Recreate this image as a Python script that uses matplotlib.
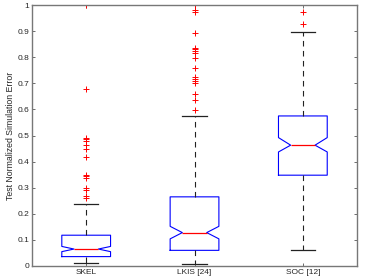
import matplotlib
matplotlib.use("Agg")
import matplotlib.pyplot as plt

plt.rcParams['font.family'] = ['Liberation Sans', 'DejaVu Sans']

# data
labels = ['SKEL', 'LKIS [24]', 'SOC [12]']
medians = [0.065, 0.128, 0.463]
q1 = [0.036, 0.060, 0.348]
q3 = [0.118, 0.265, 0.575]
whis_lo = [0.011, 0.007, 0.063]
whis_hi = [0.237, 0.574, 0.898]
notch_lo = [0.055, 0.104, 0.437]
notch_hi = [0.075, 0.152, 0.492]
outliers = [
    [1.0, 0.68, 0.491, 0.485, 0.478, 0.462, 0.45, 0.416, 0.35, 0.345,
     0.338, 0.298, 0.29, 0.268, 0.26],
    [1.0, 0.981, 0.972, 0.894, 0.836, 0.830, 0.824, 0.815, 0.796, 0.757,
     0.723, 0.716, 0.710, 0.702, 0.661, 0.636, 0.597],
    [0.972, 0.926],
]
yticks = [0, 0.1, 0.2, 0.3, 0.4, 0.5, 0.6, 0.7, 0.8, 0.9, 1]
ytick_labels = ['0', '0.1', '0.2', '0.3', '0.4', '0.5', '0.6', '0.7', '0.8', '0.9', '1']

stats = []
for i in range(len(labels)):
    stats.append({
        'label': labels[i],
        'med': medians[i],
        'q1': q1[i],
        'q3': q3[i],
        'whislo': whis_lo[i],
        'whishi': whis_hi[i],
        'cilo': notch_lo[i],
        'cihi': notch_hi[i],
        'fliers': outliers[i],
    })

fig = plt.figure(figsize=(3.74, 2.80), dpi=100)
ax = fig.add_axes([0.0856, 0.05, 0.869, 0.932])

ax.bxp(stats, positions=[1, 2, 3], widths=0.45, shownotches=True,
       boxprops=dict(color='#0000ff', linewidth=0.8),
       medianprops=dict(color='#ff0000', linewidth=0.9),
       whiskerprops=dict(color='#222222', linewidth=0.8, linestyle=(0, (5, 4))),
       capprops=dict(color='#222222', linewidth=0.9),
       flierprops=dict(marker='+', markeredgecolor='#ff0000', markersize=4,
                       markeredgewidth=0.7, linestyle='none'))

ax.set_xlim(0.5, 3.5)
ax.set_ylim(0, 1)
ax.set_yticks(yticks)
ax.set_yticklabels(ytick_labels)
ax.set_xticks([1, 2, 3])
ax.set_xticklabels(labels)
ax.tick_params(direction='in', length=2.5, width=0.6, labelsize=6,
               colors='#555555', labelcolor='#262626', top=True, right=True, pad=2)
for s in ax.spines.values():
    s.set_color('#777777')
    s.set_linewidth(1.0)

ax.set_ylabel('Test Normalized Simulation Error', fontsize=6.3, color='#262626', labelpad=2)

plt.savefig('out.png', dpi=100)
